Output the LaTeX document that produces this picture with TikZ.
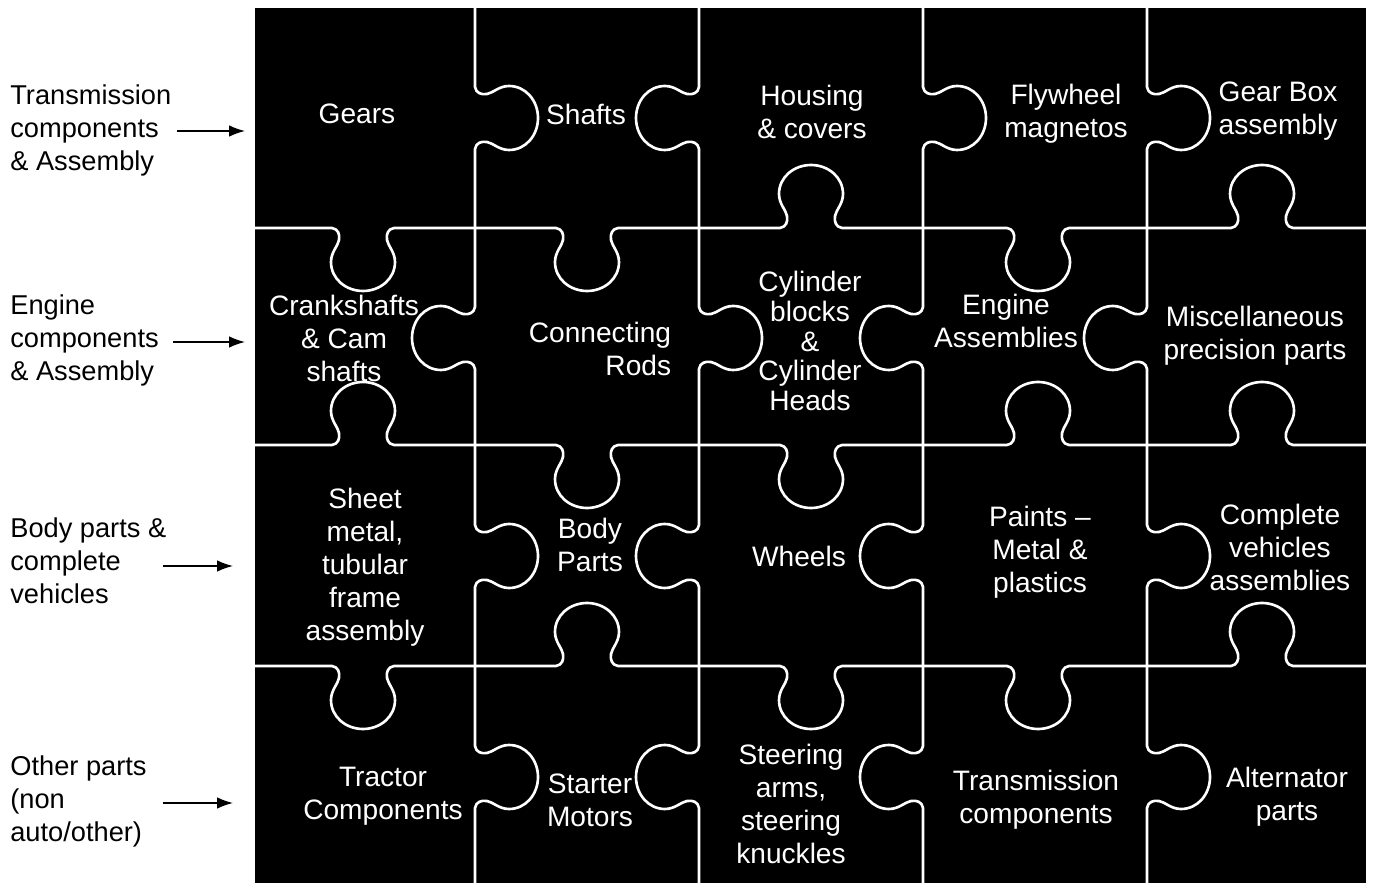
\documentclass[tikz,border=0pt]{standalone}
\usepackage{fontspec}
\setmainfont{Liberation Sans}
\usetikzlibrary{arrows.meta}

% tab on a horizontal cut: centre x, line y, +1 down / -1 up
\newcommand{\htab}[3]{-- ({#1-31},#2)
  .. controls ({#1-25},{#2+1*(#3)}) and ({#1-23},{#2+6*(#3)}) .. ({#1-24},{#2+12*(#3)})
  .. controls ({#1-25},{#2+18*(#3)}) and ({#1-32},{#2+24*(#3)}) .. ({#1-32},{#2+34*(#3)})
  .. controls ({#1-32},{#2+51*(#3)}) and ({#1-17},{#2+63*(#3)}) .. (#1,{#2+63*(#3)})
  .. controls ({#1+17},{#2+63*(#3)}) and ({#1+32},{#2+51*(#3)}) .. ({#1+32},{#2+34*(#3)})
  .. controls ({#1+32},{#2+24*(#3)}) and ({#1+25},{#2+18*(#3)}) .. ({#1+24},{#2+12*(#3)})
  .. controls ({#1+23},{#2+6*(#3)}) and ({#1+25},{#2+1*(#3)}) .. ({#1+31},#2)}
% tab on a vertical cut: line x, centre y, +1 right / -1 left
\newcommand{\vtab}[3]{-- (#1,{#2-31})
  .. controls ({#1+1*(#3)},{#2-25}) and ({#1+6*(#3)},{#2-23}) .. ({#1+12*(#3)},{#2-24})
  .. controls ({#1+18*(#3)},{#2-25}) and ({#1+24*(#3)},{#2-32}) .. ({#1+34*(#3)},{#2-32})
  .. controls ({#1+51*(#3)},{#2-32}) and ({#1+63*(#3)},{#2-17}) .. ({#1+63*(#3)},#2)
  .. controls ({#1+63*(#3)},{#2+17}) and ({#1+51*(#3)},{#2+32}) .. ({#1+34*(#3)},{#2+32})
  .. controls ({#1+24*(#3)},{#2+32}) and ({#1+18*(#3)},{#2+25}) .. ({#1+12*(#3)},{#2+24})
  .. controls ({#1+6*(#3)},{#2+23}) and ({#1+1*(#3)},{#2+25}) .. (#1,{#2+31})}

\begin{document}
\begin{tikzpicture}[x=0.02cm, y=-0.02cm, >={Latex[length=9pt,width=6.5pt]},
  cut/.style={white, line width=1.5pt, line join=round},
  piece/.style={white, align=center, inner sep=0pt,
    font=\fontsize{16pt}{18.8pt}\selectfont},
  rowlbl/.style={black, align=left, anchor=west, inner sep=0pt,
    font=\fontsize{15.5pt}{18.8pt}\selectfont},
  rowarrow/.style={->, line width=0.8pt}]
  \fill[white] (0,0) rectangle (1375,884);
  \useasboundingbox (0,0) rectangle (1375,884);
  % board
  \fill[black] (255,8) rectangle (1366,883);
  % horizontal cuts
  \draw[cut] (255,228) \htab{363}{228}{1} \htab{587}{228}{1} \htab{811}{228}{-1}
    \htab{1038}{228}{1} \htab{1262}{228}{-1} -- (1366,228);
  \draw[cut] (255,445) \htab{363}{445}{-1} \htab{587}{445}{1} \htab{811}{445}{1}
    \htab{1038}{445}{-1} \htab{1262}{445}{-1} -- (1366,445);
  \draw[cut] (255,666) \htab{363}{666}{1} \htab{587}{666}{-1} \htab{811}{666}{1}
    \htab{1038}{666}{1} \htab{1262}{666}{-1} -- (1366,666);
  % vertical cuts
  \draw[cut] (475,8) \vtab{475}{118}{1} \vtab{475}{338}{-1} \vtab{475}{556}{1}
    \vtab{475}{777}{1} -- (475,883);
  \draw[cut] (699,8) \vtab{699}{118}{-1} \vtab{699}{338}{1} \vtab{699}{556}{-1}
    \vtab{699}{777}{-1} -- (699,883);
  \draw[cut] (923,8) \vtab{923}{118}{1} \vtab{923}{338}{-1} \vtab{923}{556}{-1}
    \vtab{923}{777}{-1} -- (923,883);
  \draw[cut] (1147,8) \vtab{1147}{118}{1} \vtab{1147}{338}{-1} \vtab{1147}{556}{1}
    \vtab{1147}{777}{1} -- (1147,883);
  % pieces
  \node[piece] (gears) at (357,114) {Gears};
  \node[piece] (shafts) at (586,114) {Shafts};
  \node[piece] (housing) at (812,112) {Housing\\\& covers};
  \node[piece] (flywheel) at (1066,114) {Flywheel\\magnetos};
  \node[piece] (gearbox) at (1278,111) {Gear Box\\assembly};
  \node[piece] (crank) at (344,338) {Crankshafts\\\& Cam\\shafts};
  \node[piece, align=right] (conrod) at (600,349) {Connecting\\Rods};
  \node[piece, font=\fontsize{16pt}{17pt}\selectfont] (cylinder) at (810,341)
    {Cylinder\\blocks\\\&\\Cylinder\\Heads};
  \node[piece] (engasm) at (1006,321) {Engine\\Assemblies};
  \node[piece] (misc) at (1255,336) {Miscellaneous\\precision parts};
  \node[piece] (sheet) at (365,567) {Sheet\\metal,\\tubular\\frame\\assembly};
  \node[piece] (body) at (590,545) {Body\\Parts};
  \node[piece] (wheels) at (799,556) {Wheels};
  \node[piece] (paints) at (1040,552) {Paints --\\Metal \&\\plastics};
  \node[piece] (vehicles) at (1280,547) {Complete\\vehicles\\assemblies};
  \node[piece] (tractor) at (383,796) {Tractor\\Components};
  \node[piece] (starter) at (590,800) {Starter\\Motors};
  \node[piece] (steering) at (791,804) {Steering\\arms,\\steering\\knuckles};
  \node[piece] (transm) at (1036,800) {Transmission\\components};
  \node[piece] (alternator) at (1287,797) {Alternator\\parts};
  % row labels
  \node[rowlbl] (rowtrans) at (10,130) {Transmission\\components\\\& Assembly};
  \node[rowlbl] (roweng) at (10,340) {Engine\\components\\\& Assembly};
  \node[rowlbl] (rowbody) at (10,561) {Body parts \&\\complete\\vehicles};
  \node[rowlbl] (rowother) at (10,801) {Other parts\\(non\\auto/other)};
  \coordinate (tiptrans) at (245,131);
  \coordinate (tipeng) at (245,342);
  \coordinate (tipbody) at (233,566);
  \coordinate (tipother) at (233,803);
  \draw[rowarrow, shorten <=3pt] (rowtrans.east |- tiptrans) -- (tiptrans);
  \draw[rowarrow, shorten <=8pt] (roweng.east |- tipeng) -- (tipeng);
  \draw[rowarrow, shorten <=-2pt] (rowbody.east |- tipbody) -- (tipbody);
  \draw[rowarrow, shorten <=9pt] (rowother.east |- tipother) -- (tipother);
\end{tikzpicture}
\end{document}
